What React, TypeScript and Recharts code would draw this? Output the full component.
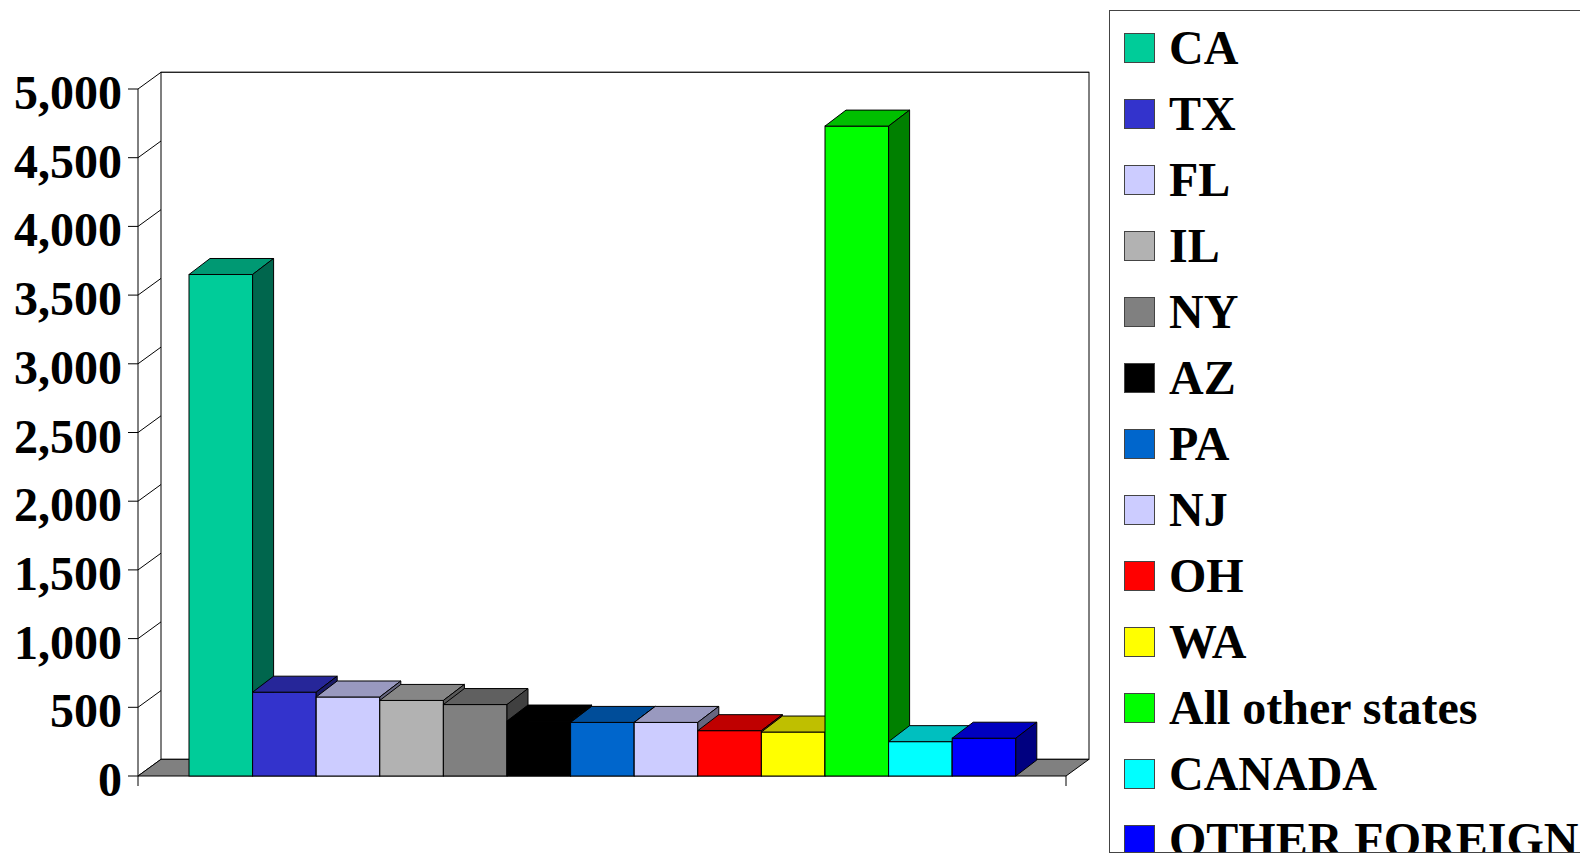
import React from 'react';
import { BarChart, Bar, XAxis, YAxis, CartesianGrid, ReferenceArea, Legend } from 'recharts';

const seriesNames = ['CA', 'TX', 'FL', 'IL', 'NY', 'AZ', 'PA', 'NJ', 'OH', 'WA', 'All other states', 'CANADA', 'OTHER FOREIGN'];
const seriesValues = [3650, 610, 575, 550, 520, 400, 390, 390, 330, 320, 4730, 250, 275];
const seriesColors = ['#00CC99', '#3333CC', '#CCCCFF', '#B2B2B2', '#808080', '#000000', '#0066CC', '#CCCCFF', '#FF0000', '#FFFF00', '#00FF00', '#00FFFF', '#0000FF'];
const yTicks = [0, 500, 1000, 1500, 2000, 2500, 3000, 3500, 4000, 4500, 5000];
const categories = [''];

const data = categories.map((c) => {
  const row: Record<string, any> = { name: c };
  seriesNames.forEach((n, i) => { row[n] = seriesValues[i]; });
  return row;
});

const FONT = '"Liberation Serif", "Times New Roman", serif';
const WDX = 23; // wall depth x
const WDY = 16.7; // wall depth y
const BDX = 21; // bar depth x
const BDY = 16; // bar depth y

function shade(hex: string, f: number) {
  const h = hex.replace('#', '');
  const r = Math.round(parseInt(h.slice(0, 2), 16) * f);
  const g = Math.round(parseInt(h.slice(2, 4), 16) * f);
  const b = Math.round(parseInt(h.slice(4, 6), 16) * f);
  return `rgb(${r},${g},${b})`;
}

const Bar3D = (props: any) => {
  const { x, y, width, height, fill } = props;
  if (x == null || y == null) return null;
  const w = width, h = height;
  return (
    <g>
      <rect x={x} y={y} width={w} height={h} fill={fill} stroke="#000" strokeWidth={1} />
      <polygon
        points={`${x},${y} ${x + BDX},${y - BDY} ${x + w + BDX},${y - BDY} ${x + w},${y}`}
        fill={shade(fill, 0.75)} stroke="#000" strokeWidth={1} strokeLinejoin="round"
      />
      <polygon
        points={`${x + w},${y} ${x + w + BDX},${y - BDY} ${x + w + BDX},${y + h - BDY} ${x + w},${y + h}`}
        fill={shade(fill, 0.5)} stroke="#000" strokeWidth={1} strokeLinejoin="round"
      />
    </g>
  );
};

const Walls = (props: any) => {
  const { x, y, width, height } = props;
  if (x == null) return null;
  const bottom = y + height;
  return (
    <g>
      <rect x={x + WDX} y={y - WDY} width={width} height={height} fill="#fff" stroke="#000" strokeWidth={1} />
      <polygon
        points={`${x},${bottom} ${x + width},${bottom} ${x + width + WDX},${bottom - WDY} ${x + WDX},${bottom - WDY}`}
        fill="#808080" stroke="#000" strokeWidth={1}
      />
      <line x1={x} y1={bottom} x2={x} y2={bottom + 10} stroke="#000" strokeWidth={1} />
      <line x1={x + width} y1={bottom} x2={x + width} y2={bottom + 10} stroke="#000" strokeWidth={1} />
    </g>
  );
};

const GridLine = (props: any) => {
  const { x1, y1, x2, y2 } = props;
  return (
    <g key={`g-${y1}`}>
      <line x1={x1 + WDX} y1={y1 - WDY} x2={x2 + WDX} y2={y2 - WDY} stroke="#000" strokeWidth={1} />
      <line x1={x1} y1={y1} x2={x1 + WDX} y2={y1 - WDY} stroke="#000" strokeWidth={1} />
    </g>
  );
};

const YTick = (props: any) => {
  const { x, y, payload } = props;
  return (
    <text x={x} y={y + 20} textAnchor="end" fontFamily={FONT} fontWeight="bold" fontSize={48} fill="#000">
      {Number(payload.value).toLocaleString('en-US')}
    </text>
  );
};

const LegendBox = (props: any) => {
  const raw = props.payload || [];
  const payload = [...raw].sort(
    (a: any, b: any) => seriesNames.indexOf(String(a.value)) - seriesNames.indexOf(String(b.value))
  );
  return (
    <div
      style={{
        boxSizing: 'border-box', width: '100%', height: '100%', borderTop: '1px solid #444',
        borderLeft: '1px solid #444', borderBottom: '1px solid #444', background: '#fff',
        overflow: 'hidden', fontFamily: FONT, fontWeight: 'bold', fontSize: 48, paddingTop: 4, color: '#000',
      }}
    >
      {payload.map((e: any, i: number) => (
        <div key={i} style={{ height: 66, display: 'flex', alignItems: 'center', whiteSpace: 'nowrap' }}>
          <span
            style={{
              display: 'inline-block', boxSizing: 'border-box', width: 31, height: 30, marginLeft: 14,
              background: e.color, border: '1px solid #444', flex: 'none',
            }}
          />
          <span style={{ marginLeft: 14, lineHeight: 1.1 }}>{e.value}</span>
        </div>
      ))}
    </div>
  );
};

export default function App() {
  return (
    <div style={{ width: 1580, height: 855, background: '#fff' }}>
      <style>{'html,body{margin:0;padding:0;overflow:hidden;background:#fff}'}</style>
      <BarChart
        width={1580}
        height={855}
        data={data}
        margin={{ top: 89, right: 514, bottom: 79, left: 0 }}
        barCategoryGap={51}
        barGap={0}
      >
        <ReferenceArea y1={0} y2={5000} shape={<Walls />} ifOverflow="visible" />
        <CartesianGrid vertical={false} horizontal={(p: any) => <GridLine {...p} />} />
        <XAxis dataKey="name" hide />
        <YAxis
          type="number"
          domain={[0, 5000]}
          ticks={yTicks}
          interval={0}
          width={138}
          tickSize={10}
          tickMargin={6}
          axisLine={{ stroke: '#000', strokeWidth: 1 }}
          tickLine={{ stroke: '#000', strokeWidth: 1 }}
          tick={<YTick />}
        />
        {seriesNames.map((n, i) => (
          <Bar key={n} dataKey={n} name={n} fill={seriesColors[i]} barSize={63.6} shape={<Bar3D />} isAnimationActive={false} />
        ))}
        <Legend
          layout="vertical"
          align="center"
          verticalAlign="middle"
          width={471}
          height={843}
          itemSorter={null as any}
          wrapperStyle={{ left: 1109, top: 10, width: 471, height: 843 }}
          content={<LegendBox />}
        />
      </BarChart>
    </div>
  );
}
